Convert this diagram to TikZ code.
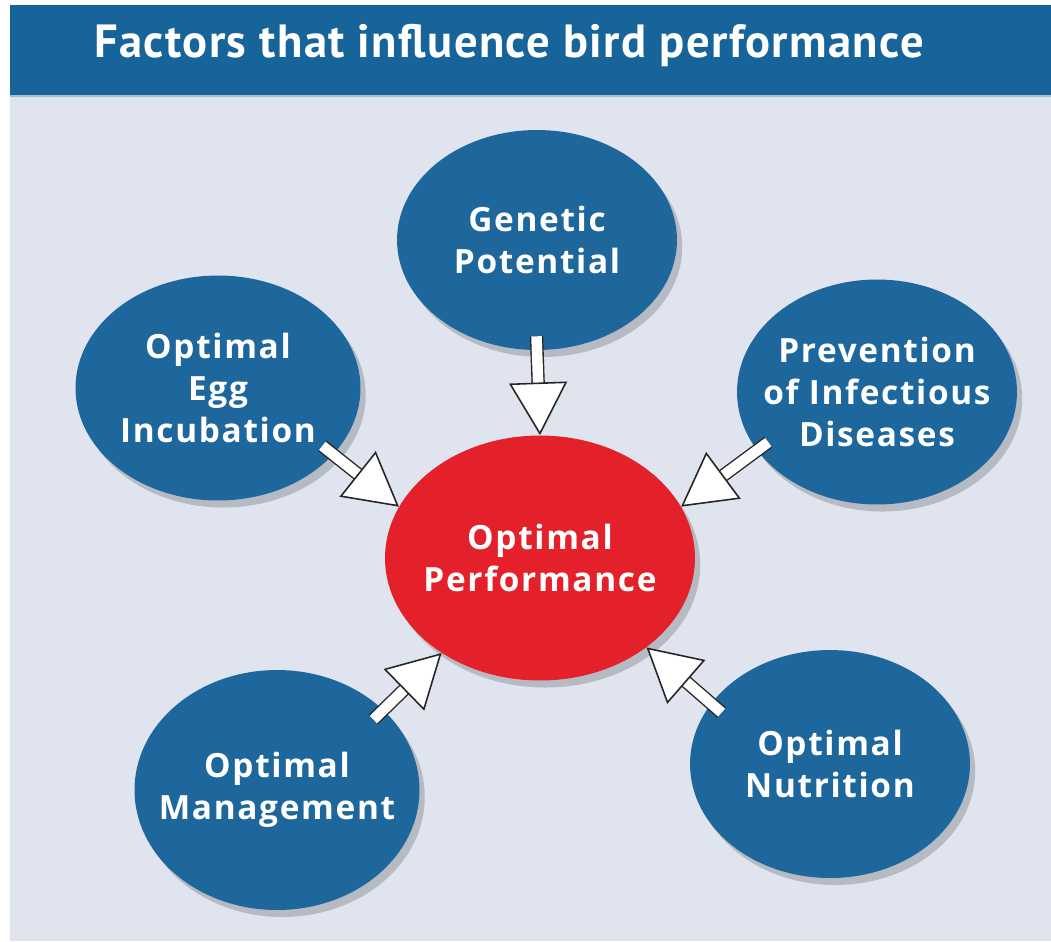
\documentclass[tikz,border=0pt]{standalone}
\usepackage{fontspec}
\setmainfont{Open Sans}[LetterSpace=5]
\newfontfamily\titlefont{PT Sans}[LetterSpace=3]
\usepackage{xcolor}
\usetikzlibrary{shapes.geometric, arrows.meta, shadows}
\definecolor{birdblue}{HTML}{1D679D}
\definecolor{birdbanner}{HTML}{17649A}
\definecolor{birdred}{HTML}{E4202A}
\definecolor{birdbg}{HTML}{DFE4EE}

\begin{document}
\begin{tikzpicture}[x=0.02cm, y=-0.02cm,
  factor/.style={ellipse, fill=birdblue, inner sep=-20pt, align=center,
    text=white, font=\bfseries\fontsize{19}{24}\selectfont,
    minimum width=5.6cm, minimum height=4.5cm,
    drop shadow={shadow xshift=3pt, shadow yshift=-4pt, opacity=0.18, fill=black}},
  goal/.style={factor, fill=birdred, minimum width=6.2cm, minimum height=4.9cm},
  blockarrow/.style={draw=white, line width=6pt, shorten <=-8pt,
    -{Triangle[length=30pt, width=33pt, line width=0.9pt, color=black!85, fill=white]},
    preaction={draw=black!85, line width=7.6pt, shorten <=-8pt, shorten >=28pt, arrows=-}}]
  \useasboundingbox (0,0) rectangle (1051,941);
  \fill[white] (0,0) rectangle (1051,941);
  \fill[birdbg] (10,95) rectangle (1051,941);
  \fill[birdbanner] (10,5) rectangle (1051,95);
  \draw[birdbanner!40, line width=1.5pt] (10,96) -- (1051,96);
  \node[anchor=base, text=white, font=\titlefont\bfseries\fontsize{26.5}{31}\selectfont]
    (title) at (509,57) {Factors that influence bird performance};

  \node[goal] (perf) at (540,558) {Optimal\\Performance};
  \node[factor, minimum height=4.4cm] (gen) at (537,240) {Genetic\\Potential};
  \node[factor, minimum width=5.7cm] (egg) at (218,388) {Optimal\\Egg\\Incubation};
  \node[factor] (prev) at (877,392) {Prevention\\of Infectious\\Diseases};
  \node[factor, minimum width=5.7cm, minimum height=4.8cm] (mgmt) at (277,790) {Optimal\\Management};
  \node[factor, minimum height=4.56cm] (nutri) at (830,764) {Optimal\\Nutrition};

  \draw[blockarrow] (gen.south) -- (perf.north);
  \draw[blockarrow] (egg.330) -- (perf.160);
  \draw[blockarrow] (prev.206) -- (perf.20);
  \draw[blockarrow] (mgmt.37) -- (perf.224);
  \draw[blockarrow] (nutri.153) -- (perf.320);
\end{tikzpicture}
\end{document}
